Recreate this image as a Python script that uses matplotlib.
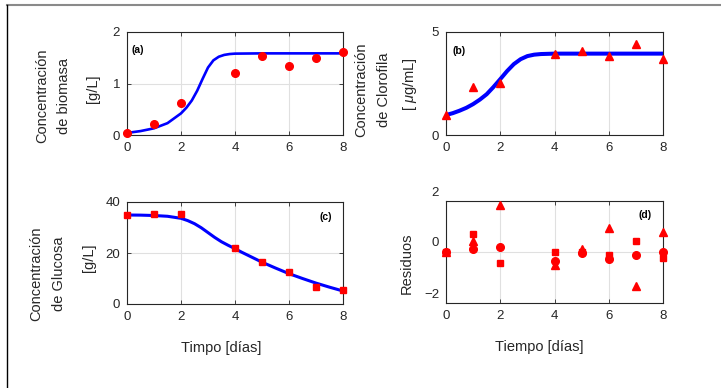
import matplotlib
matplotlib.use("Agg")
import matplotlib.pyplot as plt
from matplotlib.lines import Line2D
import matplotlib.transforms as mtransforms

plt.rcParams['font.family'] = ['Liberation Sans', 'DejaVu Sans']
plt.rcParams['mathtext.fontset'] = 'custom'
plt.rcParams['mathtext.it'] = 'Liberation Sans:italic'

# ---- data ----
t_data = [0, 1, 2, 4, 5, 6, 7, 8]
biomasa = [0.045, 0.22, 0.63, 1.21, 1.53, 1.34, 1.49, 1.61]
clorofila = [0.97, 2.31, 2.52, 3.95, 4.08, 3.84, 4.40, 3.71]
glucosa = [34.9, 35.2, 35.2, 21.9, 16.6, 12.5, 6.6, 5.5]

t_fit_a = [0, 0.5, 1, 1.5, 2, 2.2, 2.4, 2.6, 2.8, 3.0, 3.2, 3.4, 3.6, 3.8, 4, 5, 6, 7, 8]
fit_biomasa = [0.04, 0.076, 0.13, 0.23, 0.42, 0.53, 0.67, 0.86, 1.09, 1.31, 1.45, 1.52, 1.555, 1.572, 1.58,
               1.585, 1.585, 1.585, 1.585]

t_fit_b = [0, 0.25, 0.5, 0.75, 1, 1.25, 1.5, 1.75, 2, 2.25, 2.5, 2.75, 3, 3.25, 3.5, 4, 5, 6, 7, 8]
fit_clorofila = [0.97, 1.06, 1.18, 1.32, 1.50, 1.72, 1.98, 2.33, 2.71, 3.10, 3.44, 3.68, 3.83, 3.90, 3.93,
                 3.95, 3.95, 3.95, 3.95, 3.95]

t_fit_c = [0, 0.5, 1, 1.5, 2, 2.25, 2.5, 2.75, 3, 3.25, 3.5, 3.75, 4, 4.25, 4.5, 5, 5.5, 6, 6.5, 7, 7.5, 8]
fit_glucosa = [34.9, 34.85, 34.7, 34.4, 33.6, 32.7, 31.5, 29.9, 28.0, 26.1, 24.4, 23.0, 21.7, 20.3, 19.0,
               16.4, 14.1, 11.9, 10.0, 8.2, 6.6, 5.1]

res_circ = [0.0, 0.10, 0.18, -0.36, -0.04, -0.26, -0.10, 0.0]
res_sq = [0.0, 0.71, -0.43, 0.0, 0.0, -0.13, 0.42, -0.23]
res_tri = [0.0, 0.44, 1.84, -0.52, 0.13, 0.94, -1.34, 0.77]

xticks = [0, 2, 4, 6, 8]

W, H = 721, 388
fig = plt.figure(figsize=(W / 100, H / 100), dpi=100)

def ax_at(l, t, r, b):
    return fig.add_axes([l / W, 1 - b / H, (r - l) / W, (b - t) / H])

def style(ax, ylim, yticks):
    ax.set_xlim(0, 8)
    ax.set_ylim(*ylim)
    ax.set_xticks(xticks)
    ax.set_yticks(yticks)
    ax.grid(True, color='#e0e0e0', linewidth=0.8)
    ax.set_axisbelow(True)
    ax.tick_params(direction='in', length=3, width=0.6, labelsize=9.5,
                   colors='#262626', pad=5, top=True, right=True)
    for s in ax.spines.values():
        s.set_color('#262626')
        s.set_linewidth(0.8)

red = '#ff0000'
blue = '#0000ff'

# (a)
axa = ax_at(127, 32, 343, 135)
style(axa, (0, 2), [0, 1, 2])
axa.plot(t_fit_a, fit_biomasa, color=blue, lw=1.9, zorder=2, solid_joinstyle='round')
axa.plot(t_data, biomasa, 'o', color=red, ms=5.5, clip_on=False, zorder=3)
axa.text(0.022, 0.83, '(a)', transform=axa.transAxes, fontsize=7.5, fontweight='bold', va='center')

# (b)
axb = ax_at(446, 32, 663, 135)
style(axb, (0, 5), [0, 5])
axb.plot(t_fit_b, fit_clorofila, color=blue, lw=2.9, zorder=2, solid_joinstyle='round')
axb.plot(t_data, clorofila, '^', color=red, ms=5.5, clip_on=False, zorder=3)
axb.text(0.03, 0.82, '(b)', transform=axb.transAxes, fontsize=7.5, fontweight='bold', va='center')

# (c)
axc = ax_at(127, 202, 343, 304)
style(axc, (0, 40), [0, 20, 40])
axc.plot(t_fit_c, fit_glucosa, color=blue, lw=2.2, zorder=2, solid_joinstyle='round')
axc.plot(t_data, glucosa, 's', color=red, ms=5, clip_on=False, zorder=3)
axc.text(0.89, 0.85, '(c)', transform=axc.transAxes, fontsize=7.5, fontweight='bold', va='center')

# (d)
axd = ax_at(446, 201, 663, 303)
style(axd, (-2, 2), [-2, 0, 2])
axd.plot(t_data, res_circ, 'o', color=red, ms=5.5, clip_on=False, zorder=3)
axd.plot(t_data, res_sq, 's', color=red, ms=5, clip_on=False, zorder=3)
axd.plot(t_data, res_tri, '^', color=red, ms=6, clip_on=False, zorder=3)
axd.text(0.885, 0.86, '(d)', transform=axd.transAxes, fontsize=7.5, fontweight='bold', va='center')
off = mtransforms.ScaledTranslation(0, 10 / 100, fig.dpi_scale_trans)
for lab in axd.get_yticklabels():
    lab.set_transform(lab.get_transform() + off)

# labels in pixel positions
def ftext(x, y, s, rot=0, **kw):
    fig.text(x / W, 1 - y / H, s, rotation=rot, ha='center', va='center',
             fontsize=10.5, color='#262626', **kw)

ftext(42, 96, 'Concentración', 90)
ftext(64, 96, 'de biomasa', 90)
ftext(93, 89, '[g/L]', 90)

ftext(361, 90, 'Concentración', 90)
ftext(384, 90, 'de Clorofila', 90)
ftext(410, 84, r'[ $\mu$g/mL]', 90)

ftext(36, 274, 'Concentración', 90)
ftext(59, 274, 'de Glucosa', 90)
ftext(89, 258, '[g/L]', 90)

ftext(407, 263, 'Residuos', 90)

ftext(221, 348, 'Timpo [días]')
ftext(539, 347, 'Tiempo [días]')

# outer frame lines (top and left)
fig.add_artist(Line2D([7 / W, 1], [1 - 5 / H, 1 - 5 / H], color='#8a8a8a', lw=1.5, transform=fig.transFigure))
fig.add_artist(Line2D([7 / W, 7 / W], [0, 1 - 5 / H], color='black', lw=1.0, transform=fig.transFigure))

fig.savefig('out.png', dpi=100)
